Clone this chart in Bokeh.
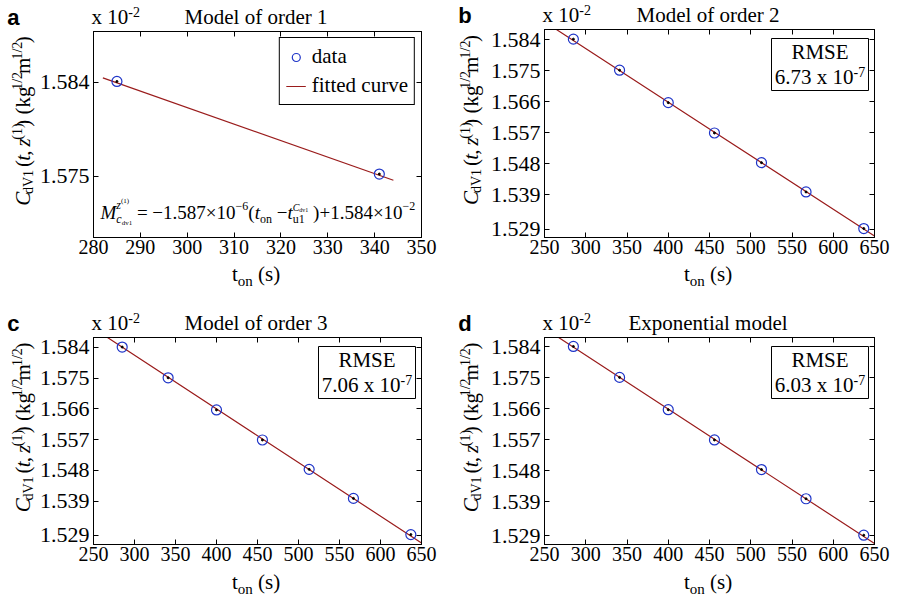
import math
from bokeh.plotting import figure
from bokeh.models import (Range1d, FixedTicker, LinearAxis, Label, BoxAnnotation,
                          Legend, LegendItem)
from bokeh.layouts import column, row
from bokeh.embed import file_html
from bokeh.resources import INLINE

# ---------------- data ----------------
t_on = [285, 341, 400, 456, 513, 567, 637]
c_dv1 = [1.5841, 1.5751, 1.5657, 1.5569, 1.5483, 1.5398, 1.5292]
t_on_a = [285, 341]
c_dv1_a = [1.5841, 1.5752]

fit1_t = [282, 344]
fit1_c = [1.58444, 1.57460]
fit2_t = [250, 450, 650]
fit2_c = [1.58914, 1.55808, 1.52700]
fit3_t = [250, 450, 650]
fit3_c = [1.58958, 1.55816, 1.52674]
fitexp_t = [250, 450, 650]
fitexp_c = [1.58938, 1.55808, 1.52679]

xticks_a = [280, 290, 300, 310, 320, 330, 340, 350]
xticks = [250, 300, 350, 400, 450, 500, 550, 600, 650]
yticks_a = [1.584, 1.575]
ytick_labels_a = ["1.584", "1.575"]
yticks = [1.584, 1.575, 1.566, 1.557, 1.548, 1.539, 1.529]
ytick_labels = ["1.584", "1.575", "1.566", "1.557", "1.548", "1.539", "1.529"]

titles = ["Model of order 1", "Model of order 2", "Model of order 3", "Exponential model"]
letters = ["a", "b", "c", "d"]
rmse_vals = [None, "6.73", "7.06", "6.03"]

BLUE = "#1f35c8"
RED = "#9a1c1c"
SERIF = "Liberation Serif"
MID = 0.34  # distance (em) from baseline up to the middle of the text box

# approximate Times advance widths (1/1000 em)
W = {" ": 250, "(": 333, ")": 333, ",": 250, ".": 250, "/": 278, "-": 333,
     "\u2212": 564, "=": 564, "+": 564, "\u00d7": 564,
     "a": 444, "b": 500, "c": 444, "d": 500, "e": 444, "f": 333, "g": 500, "h": 500,
     "i": 278, "k": 500, "l": 278, "m": 778, "n": 500, "o": 500, "p": 500, "r": 333,
     "s": 389, "t": 278, "u": 500, "v": 500, "x": 500, "z": 389,
     "C": 667, "M": 833, "V": 722, "R": 667, "S": 556, "E": 611}


def tw(s, size):
    return sum(W.get(ch, 500) for ch in s) / 1000.0 * size


def layout_runs(runs):
    cur, mark, mx = 0.0, 0.0, 0.0
    out = []
    for r in runs:
        if r == "MARK":
            mark = cur
            mx = cur
        elif r == "BACK":
            cur = mark
        elif r == "MAX":
            cur = max(mx, cur)
        else:
            text, size, rise, style = r
            out.append((cur, text, size, rise, style))
            cur += tw(text, size)
            mx = max(mx, cur)
    return out, max(cur, mx)


def put(p, text, x, y, size, style="normal", font=SERIF, angle=0.0, units="screen"):
    """Text whose baseline-left corner is (x, y) (y up).
    Drawn centre/middle anchored, so width errors stay symmetric."""
    lead = len(text) - len(text.lstrip(" "))
    core = text.strip(" ")
    shift = tw(" " * lead, size)
    w = tw(core, size)
    if angle == 0.0:
        cx, cy = x + shift + w / 2.0, y + MID * size
    else:
        cx, cy = x - MID * size, y + shift + w / 2.0
    p.add_layout(Label(x=cx, y=cy, x_units=units, y_units=units, text=core,
                       angle=angle, text_font=font, text_font_size=f"{size}px",
                       text_font_style=style, text_color="black",
                       text_align="center", text_baseline="middle"))


def rich(p, runs, x, y, angle=0.0, align="left", units="screen"):
    items, total = layout_runs(runs)
    off = -total / 2.0 if align == "center" else 0.0
    for pos, text, size, rise, style in items:
        if angle == 0.0:
            lx, ly = x + pos + off, y + rise
        else:
            lx, ly = x - rise, y + pos + off
        put(p, text, lx, ly, size, style, angle=angle, units=units)


def strip(w, h):
    # text-only figure whose data range equals its pixel size
    s = figure(width=w, height=h, x_range=Range1d(0, w), y_range=Range1d(0, h),
               x_axis_type=None, y_axis_type=None, output_backend="svg",
               toolbar_location=None, min_border=0, min_border_left=0, min_border_right=0,
               min_border_top=0, min_border_bottom=0)
    s.outline_line_color = None
    s.background_fill_color = "white"
    s.border_fill_color = "white"
    return s


def make_panel(idx, W_, H_, L, R, T, B, xr, yr, xt, yt, ylabels, xlab_gap):
    """Panel of size W_ x H_; frame box (L, R, T, B) in panel pixels (y down)."""
    top_h = T - 2
    left_w = L - 54
    main_h = 2 + (B - T) + 25
    bot_h = H_ - top_h - main_h

    p = figure(width=W_ - left_w, height=main_h, x_range=Range1d(*xr),
               y_range=Range1d(*yr), output_backend="svg", toolbar_location=None,
               min_border_left=54, min_border_right=W_ - R, min_border_top=2,
               min_border_bottom=25)
    p.xgrid.visible = False
    p.ygrid.visible = False
    p.outline_line_color = "black"
    p.outline_line_width = 1
    p.background_fill_color = "white"
    p.border_fill_color = "white"

    p.xaxis.ticker = FixedTicker(ticks=xt)
    p.yaxis.ticker = FixedTicker(ticks=yt)
    p.yaxis.major_label_overrides = {v: s for v, s in zip(yt, ylabels)}
    p.xaxis.major_label_text_font_size = "20px"
    p.yaxis.major_label_text_font_size = "22px"
    p.xaxis.major_label_standoff = 2
    p.yaxis.major_label_standoff = 4

    for loc, ticks in (("right", yt), ("above", xt)):
        ax = LinearAxis(ticker=FixedTicker(ticks=ticks), major_label_text_font_size="1px",
                        major_label_text_alpha=0.0, major_label_standoff=0)
        ax.major_label_overrides = {v: "" for v in ticks}
        p.add_layout(ax, loc)

    for ax in p.axis:
        ax.major_tick_in = 5
        ax.major_tick_out = 0
        ax.minor_tick_in = 0
        ax.minor_tick_out = 0
        ax.axis_line_color = "black"
        ax.major_tick_line_color = "black"
        ax.major_label_text_font = SERIF
        ax.major_label_text_color = "black"

    fw = R - L
    fh = B - T

    # --- top strip: letter, multiplier, title (baseline 7px above frame)
    ts = strip(W_, top_h)
    base = top_h - (T - 7)
    put(ts, letters[idx], L - 82, base, 22, style="bold", font="Liberation Sans",
        units="data")
    rich(ts, [("x 10", 21, 0, "normal"), ("-2", 14, 8, "normal")], L + 1, base, units="data")
    rich(ts, [(titles[idx], 21, 0, "normal")], (L + R) / 2.0, base, align="center",
         units="data")

    # --- left strip: y axis label (rotated)
    ls = strip(left_w, main_h)
    cy = (T + B) / 2.0 - 4
    ybase = main_h - (cy - top_h)
    ylab = [("C", 21, 0, "italic"), ("dV1", 14, -3, "normal"), (" (", 21, 0, "normal"),
            ("t", 21, 0, "italic"), (", ", 21, 0, "normal"), ("z", 21, 0, "italic"),
            ("(1)", 14, 8, "normal"), (") (kg", 21, 0, "normal"), ("1/2", 14, 8, "normal"),
            ("m", 21, 0, "normal"), ("1/2", 14, 8, "normal"), (")", 21, 0, "normal")]
    rich(ls, ylab, 29.5, ybase, angle=math.pi / 2, align="center", units="data")

    # --- bottom strip: x axis label
    bs = strip(W_, bot_h)
    by = B + xlab_gap
    xlab = [("t", 21, 0, "normal"), ("on", 15, -5, "normal"), (" (s)", 21, 0, "normal")]
    rich(bs, xlab, (L + R) / 2.0, bot_h - (by - (top_h + main_h)), align="center",
         units="data")

    # --- RMSE box inside the frame
    if rmse_vals[idx] is not None:
        bw, bh = 97, 52
        right, top = fw - 9, fh - 9
        p.add_layout(BoxAnnotation(left=right - bw, right=right, bottom=top - bh, top=top,
                                   left_units="screen", right_units="screen",
                                   bottom_units="screen", top_units="screen",
                                   fill_color="white", fill_alpha=1.0,
                                   line_color="black", line_width=1, line_alpha=1.0))
        cx = right - bw / 2.0
        rich(p, [("RMSE", 21, 0, "normal")], cx, top - 21, align="center")
        rich(p, [(rmse_vals[idx] + " x 10", 21, 0, "normal"), ("-7", 14, 8, "normal")],
             cx, top - 46, align="center")

    lay = column(ts, row(ls, p), bs)
    return p, lay


# ---------------- panel a ----------------
pa, la = make_panel(0, 448, 300, 90, 421, 31, 237, (280, 350), (1.5691, 1.5889),
                    xticks_a, yticks_a, ytick_labels_a, 44)
ra_l = pa.line(fit1_t, fit1_c, line_color=RED, line_width=1.2)
ra_c = pa.scatter(t_on_a, c_dv1_a, marker="circle", size=10, fill_color=None,
                  line_color=BLUE, line_width=1.2)
pa.scatter(t_on_a, c_dv1_a, marker="circle", size=2, fill_color="black", line_color="black")
leg = Legend(items=[LegendItem(label="data", renderers=[ra_c]),
                    LegendItem(label="fitted curve", renderers=[ra_l])],
             location="top_right", margin=6, padding=6, spacing=4,
             glyph_width=20, glyph_height=22, label_height=22, label_standoff=6,
             label_text_font=SERIF, label_text_font_size="21px", label_text_color="black",
             border_line_color="black", border_line_width=1, border_line_alpha=1.0,
             background_fill_color="white", background_fill_alpha=1.0)
pa.add_layout(leg)
eq = [("M", 19, 0, "italic"), "MARK", ("z", 12, 9, "italic"), ("(1)", 7, 15, "normal"),
      "BACK", ("c", 12, -5, "italic"), ("dv1", 7, -7, "normal"), "MAX",
      (" = \u22121.587\u00d710", 19, 0, "normal"), ("\u22126", 12, 8, "normal"),
      ("(", 19, 0, "normal"), ("t", 19, 0, "italic"), ("on", 12, -5, "normal"),
      (" \u2212", 19, 0, "normal"), ("t", 19, 0, "italic"), "MARK",
      ("C", 10, 8, "italic"), ("dv1", 6, 6, "normal"), "BACK", ("u1", 12, -5, "normal"), "MAX",
      (" )+1.584\u00d710", 19, 0, "normal"), ("\u22122", 12, 8, "normal")]
rich(pa, eq, 7, 19)


def data_panel(idx, W_, H_, L, R, T, B, yr, ft, fc, gap):
    p, lay = make_panel(idx, W_, H_, L, R, T, B, (250, 650), yr,
                        xticks, yticks, ytick_labels, gap)
    p.line(ft, fc, line_color=RED, line_width=1.2)
    p.scatter(t_on, c_dv1, marker="circle", size=10, fill_color=None,
              line_color=BLUE, line_width=1.2)
    p.scatter(t_on, c_dv1, marker="circle", size=2, fill_color="black", line_color="black")
    return lay


lb = data_panel(1, 449, 300, 93, 426, 29, 237, (1.5266, 1.5869), fit2_t, fit2_c, 44)
lc = data_panel(2, 448, 298, 90, 421, 37, 244, (1.5263, 1.5869), fit3_t, fit3_c, 45)
ld = data_panel(3, 449, 298, 93, 426, 37, 244, (1.5265, 1.5867), fitexp_t, fitexp_c, 45)

layout = column(row(la, lb), row(lc, ld))
open("out.html", "w").write(file_html(layout, INLINE))
